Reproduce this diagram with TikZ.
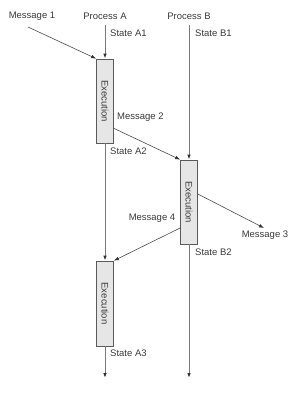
\documentclass[tikz,border=0pt]{standalone}
\usepackage{fontspec}
\setmainfont{Liberation Sans}
\usetikzlibrary{arrows.meta,calc}
\definecolor{txt}{HTML}{3A3A3A}
\definecolor{lifec}{HTML}{7A7A7A}
\definecolor{msgc}{HTML}{4A4A4A}
\definecolor{boxfill}{HTML}{E6E6E6}
\definecolor{boxline}{HTML}{5A5A5A}
\begin{document}
\begin{tikzpicture}[x=1pt,y=-1pt,
  lbl/.style={text=txt,font=\fontsize{9.5}{11}\selectfont,inner sep=0pt},
  box/.style={draw=boxline,fill=boxfill,line width=0.7pt,minimum width=17pt,minimum height=84pt,inner sep=0pt},
  tip/.style={-{Latex[length=5pt,width=3.6pt,color=black!80]}},
  life/.style={tip,draw=lifec,line width=1pt},
  msg/.style={tip,draw=msgc,line width=0.6pt}]
\useasboundingbox (0,0) rectangle (301,400);
% boxes
\node[box,label={[lbl,rotate=-90]center:Execution}] (A1) at (105,101) {};
\node[box,label={[lbl,rotate=-90]center:Execution}] (B) at (189,202) {};
\node[box,minimum height=85pt,label={[lbl,rotate=-90]center:Execution}] (A3) at (105,303.5) {};
% coordinates
\coordinate (A0) at (105,25);
\coordinate (B0) at (189,25);
\coordinate (Aend) at (105,378);
\coordinate (Bend) at (189,378);
\coordinate (m1s) at (28,27);
\coordinate (m3e) at (264,228);
% labels
\node[lbl] (tm1) at (32,16) {Message 1};
\node[lbl] (tpa) at (105,16) {Process A};
\node[lbl] (tpb) at (189,16) {Process B};
\node[lbl,anchor=west] (sa1) at (110,33) {State A1};
\node[lbl,anchor=west] (sb1) at (195,33) {State B1};
\node[lbl,anchor=west] (tm2) at (117,117) {Message 2};
\node[lbl,anchor=west] (sa2) at (110,151) {State A2};
\node[lbl] (tm4) at (152,218) {Message 4};
\node[lbl] (tm3) at (265,235) {Message 3};
\node[lbl,anchor=west] (sb2) at (195,252) {State B2};
\node[lbl,anchor=west] (sa3) at (110,353) {State A3};
% lifelines
\draw[life] (A0) -- (A1.north);
\draw[life] (A1.south) -- (A3.north);
\draw[life] (A3.south) -- (Aend);
\draw[life] (B0) -- (B.north);
\draw[life] (B.south) -- (Bend);
% messages
\draw[msg] (m1s) -- (A1.north west);
\draw[msg] ($(A1.south east)+(0,-15)$) -- (B.north west);
\draw[msg] ($(B.east)+(0,-8)$) -- (m3e);
\draw[msg] ($(B.west)+(0,26)$) -- (A3.north east);
\end{tikzpicture}
\end{document}
